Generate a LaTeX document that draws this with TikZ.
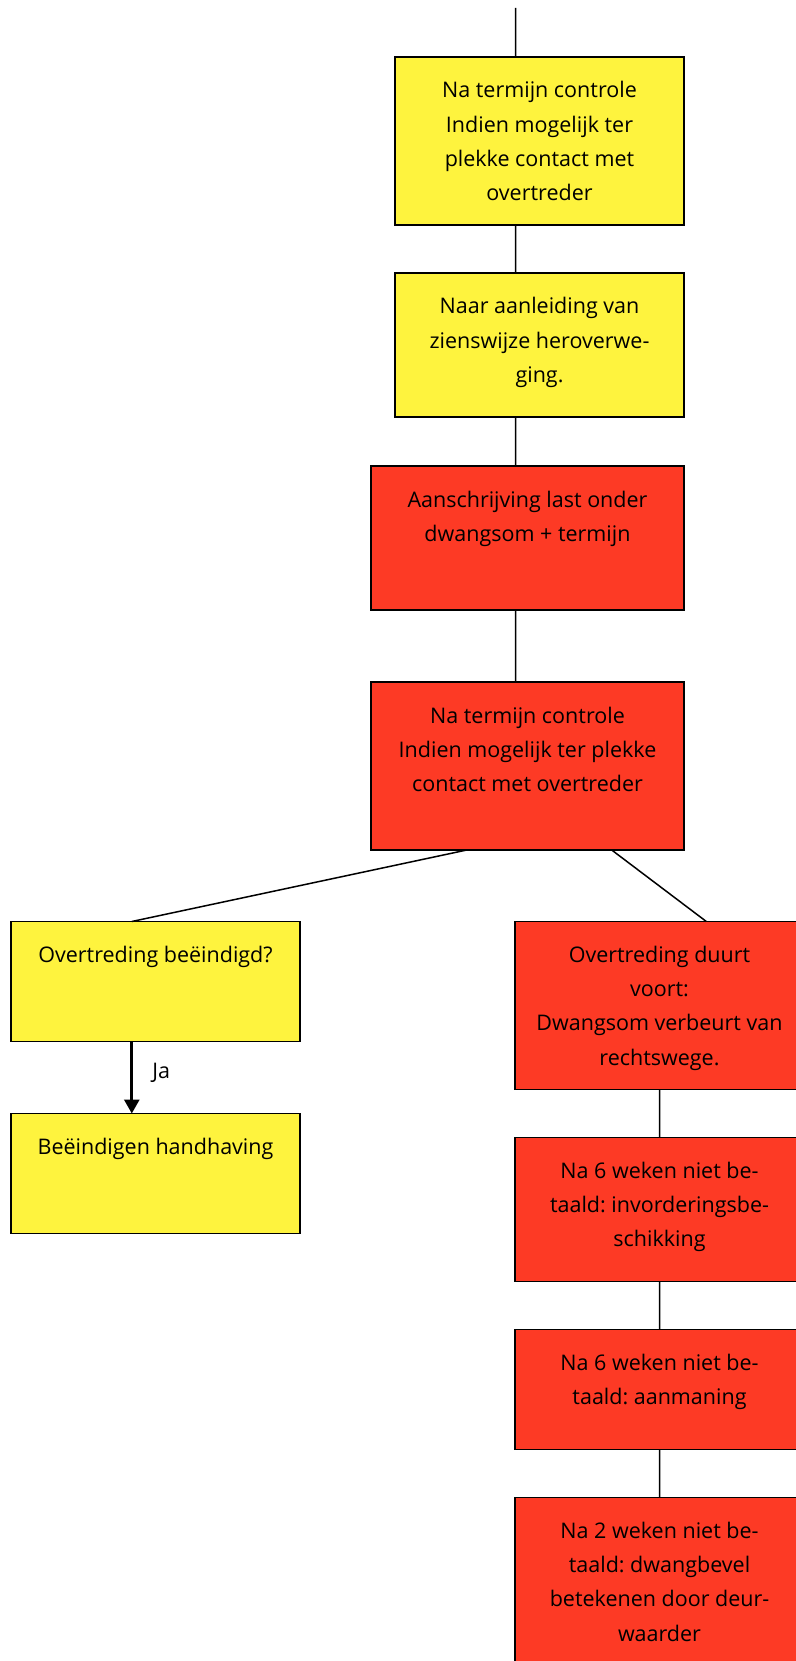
\documentclass[tikz,border=0pt]{standalone}
\usepackage{fontspec}
\setmainfont{Open Sans}
\usetikzlibrary{arrows.meta,positioning,calc}

\definecolor{flowyellow}{HTML}{FEF33E}
\definecolor{flowred}{HTML}{FD3A25}

% box content: width, height, lines
\newcommand{\flowtext}[3]{\parbox[t][#2pt][t]{#1pt}{\centering\frenchspacing\rule{0pt}{41pt}#3}}

\tikzset{
  flowbox/.style={draw=black,line width=1.5pt,inner sep=0pt,outer sep=0pt,font=\fontsize{21.5}{34.2}\selectfont},
  yellowbox/.style={flowbox,fill=flowyellow},
  redbox/.style={flowbox,fill=flowred},
  link/.style={draw=black,line width=1.5pt},
  yes/.style={draw=black,line width=3pt,-{Triangle[width=15pt,length=14pt]}}
}

\begin{document}
\begin{tikzpicture}[x=1pt,y=-1pt]
  \useasboundingbox (0,0) rectangle (795,1661);
  \coordinate (top) at (515.7,8);

  % middle column
  \node[yellowbox,anchor=north west] (check1) at (395,57)
    {\flowtext{289}{168}{Na termijn controle\\Indien mogelijk ter\\plekke contact met\\overtreder}};
  \node[yellowbox,below=48pt of check1] (review)
    {\flowtext{289}{144}{Naar aanleiding van\\zienswijze heroverwe-\\ging.}};
  \node[redbox,below=49pt of review.south east,anchor=north east] (order)
    {\flowtext{313}{144}{Aanschrijving last onder\\dwangsom + termijn}};
  \node[redbox,below=72pt of order] (check2)
    {\flowtext{313}{168}{Na termijn controle\\Indien mogelijk ter plekke\\contact met overtreder}};

  % left branch
  \node[yellowbox,anchor=north west] (ended) at (11,921.5)
    {\flowtext{289}{120}{Overtreding beëindigd?}};
  \node[yellowbox,below=72pt of ended] (stop)
    {\flowtext{289}{120}{Beëindigen handhaving}};

  % right branch
  \node[redbox,anchor=north west] (forfeit) at (515,921.5)
    {\flowtext{289}{168}{Overtreding duurt\\voort:\\Dwangsom verbeurt van\\rechtswege.}};
  \node[redbox,below=48pt of forfeit] (collect)
    {\flowtext{289}{144}{Na 6 weken niet be-\\taald: invorderingsbe-\\schikking}};
  \node[redbox,below=48pt of collect] (remind)
    {\flowtext{289}{120}{Na 6 weken niet be-\\taald: aanmaning}};
  \node[redbox,below=48pt of remind] (warrant)
    {\flowtext{289}{168}{Na 2 weken niet be-\\taald: dwangbevel\\betekenen door deur-\\waarder}};

  \coordinate (yesx) at ($(ended.south west)!0.418!(ended.south east)$);

  \path[link]
  (top) -- (check1.north -| top)
  (check1.south -| top) -- (review.north -| top)
  (review.south -| top) -- (order.north -| top)
  (order.south -| top) -- (check2.north -| top)
  ($(check2.south west)!0.306!(check2.south east)$) -- (ended.north -| yesx)
  ($(check2.south west)!0.769!(check2.south east)$) -- ($(forfeit.north west)!0.662!(forfeit.north east)$)
  (forfeit) -- (collect)
  (collect) -- (remind)
  (remind) -- (warrant);

  \draw[yes] (yesx) -- node[right,xshift=19pt,yshift=4.5pt,inner sep=0pt,font=\fontsize{21.5}{26}\selectfont] {Ja} (stop.north -| yesx);
\end{tikzpicture}
\end{document}
